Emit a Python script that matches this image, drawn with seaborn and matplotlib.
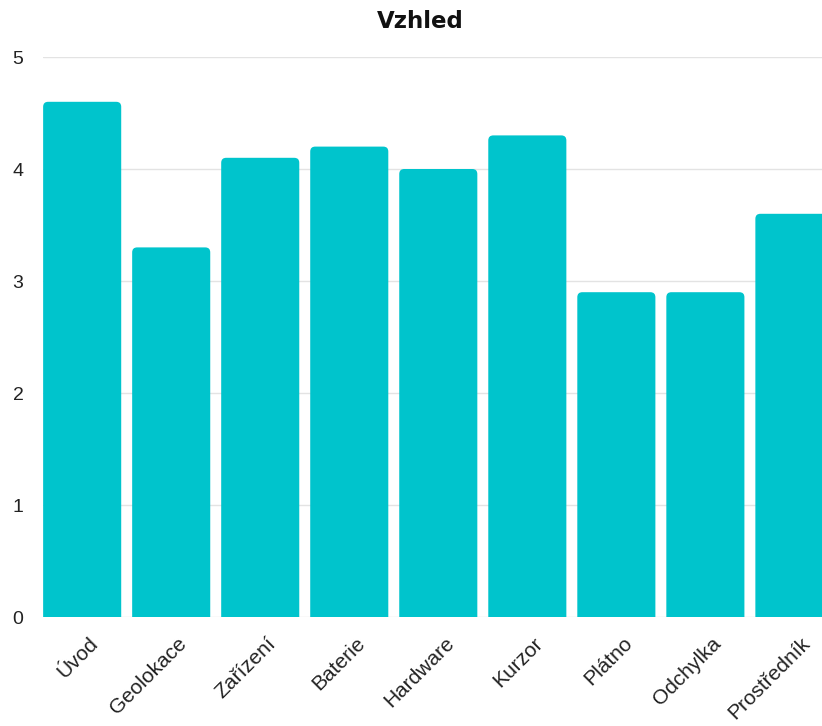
import matplotlib
matplotlib.use("Agg")
import matplotlib.pyplot as plt
import matplotlib.transforms as mtransforms
import seaborn as sns
import pandas as pd
from matplotlib.patches import FancyBboxPatch

categories = ["Úvod", "Geolokace", "Zařízení", "Baterie", "Hardware",
              "Kurzor", "Plátno", "Odchylka", "Prostředník"]
values = [4.6, 3.3, 4.1, 4.2, 4.0, 4.3, 2.9, 2.9, 3.6]
title = "Vzhled"
yticks = [0, 1, 2, 3, 4, 5]
color = "#00C4CC"

sns.set_theme(style="white")
plt.rcParams["font.family"] = ["Liberation Sans", "DejaVu Sans"]

df = pd.DataFrame({"cat": categories, "val": values})
fig = plt.figure(figsize=(8.22, 7.26), dpi=100)
ax = fig.add_axes([43 / 822, (726 - 617) / 726, 1 - 43 / 822, (617 - 57) / 726])
ax.set_axisbelow(True)
for y in yticks:
    ax.axhline(y, color="#e3e3e3", lw=1.0, zorder=0)

sns.barplot(data=df, x="cat", y="val", color=color, saturation=1,
            width=0.877, ax=ax, zorder=2)

# rounded top corners
xpp = 1 / 89.0
ypp = 1 / 112.0
for p in list(ax.patches):
    x0, w, h = p.get_x(), p.get_width(), p.get_height()
    fb = FancyBboxPatch((x0, -0.2), w, h + 0.2,
                        boxstyle=f"round,pad=0,rounding_size={5 * xpp}",
                        mutation_aspect=ypp / xpp,
                        facecolor=color, edgecolor="none", zorder=2)
    p.remove()
    ax.add_patch(fb)

ax.set_xlim(-0.44, 8.31)
ax.set_ylim(0, 5)
ax.set_yticks(yticks)
ax.set_yticklabels([str(v) for v in yticks], fontsize=14)
ax.tick_params(axis="y", length=0, pad=14, colors="#222222")
ax.tick_params(axis="x", length=0, pad=12, colors="#222222")
ax.set_xticks(range(len(categories)))
ax.set_xticklabels(categories, rotation=45, ha="right", rotation_mode="anchor",
                   fontsize=15)
offset = mtransforms.ScaledTranslation(6 / 100, 0, fig.dpi_scale_trans)
for lab in ax.get_xticklabels():
    lab.set_transform(lab.get_transform() + offset)
ax.set_xlabel("")
ax.set_ylabel("")
for s in ax.spines.values():
    s.set_visible(False)
fig.text(420 / 822, 1 - 21 / 726, title, fontsize=16.5, fontweight="bold",
         family=["DejaVu Sans"], color="#111111", ha="center", va="center")

fig.savefig("out.png", dpi=100)
